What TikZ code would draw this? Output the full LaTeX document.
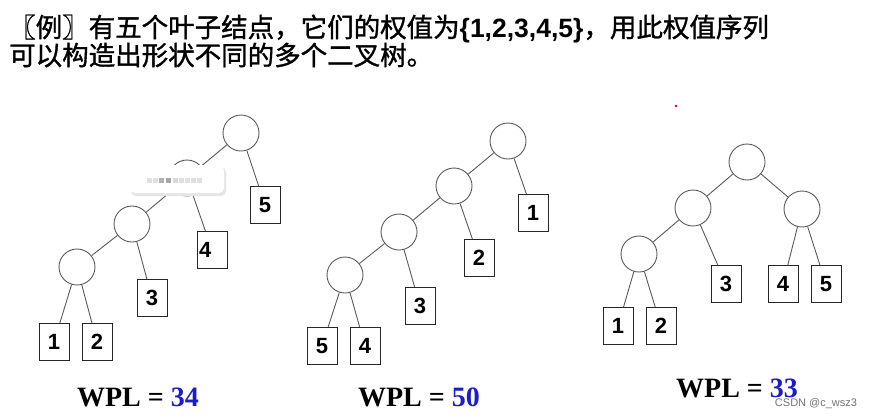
\documentclass[tikz,border=0pt]{standalone}
\usepackage{fontspec}
\setmainfont{Liberation Sans}
\newfontfamily\cjk{Noto Sans CJK SC}[FakeBold=1.2]
\newfontfamily\arialf{Liberation Sans}
\newfontfamily\timesf{Liberation Serif}
\definecolor{linegray}{HTML}{5A5A5A}
\definecolor{wplblue}{HTML}{1C1CC8}
\begin{document}
\begin{tikzpicture}[x=1pt,y=-1pt,
  inner/.style={circle, draw=linegray, line width=0.9pt, minimum size=36pt, inner sep=0pt},
  leaf/.style={rectangle, draw=black!85, line width=0.9pt, minimum width=30pt, minimum height=37pt, inner sep=0pt, font=\arialf\bfseries\fontsize{22}{22}\selectfont},
  leafL/.style={leaf, text width=26pt, align=left},
  edge/.style={draw=linegray, line width=0.9pt},
  wpl/.style={font=\timesf\bfseries\fontsize{28}{28}\selectfont, inner sep=0pt}]
\useasboundingbox (0,0) rectangle (872,418);
\fill[white] (0,0) rectangle (872,418);

% title
\node[anchor=west, inner sep=0pt, align=left, font=\cjk\fontsize{26.5}{28}\selectfont] (title) at (9,41)
  {〖例〗有五个叶子结点，它们的权值为{\arialf\bfseries\{1,2,3,4,5\}}，用此权值序列\\可以构造出形状不同的多个二叉树。};

% tree 1
\node[inner] (a1) at (241,133) {};
\node[inner] (a2) at (187,178) {};
\node[inner] (a3) at (132,224) {};
\node[inner] (a4) at (77,267) {};
\node[leaf] (a5) at (265,205) {5};
\node[leafL] (a6) at (212,250) {4};
\node[leaf] (a7) at (152,298) {3};
\node[leaf] (a8) at (54,342) {1};
\node[leaf] (a9) at (97,342) {2};
\draw[edge] (a1) -- (a2);
\draw[edge] (a1) -- (a5);
\draw[edge] (a2) -- (a3);
\draw[edge] (a2) -- (a6);
\draw[edge] (a3) -- (a4);
\draw[edge] (a3) -- (a7);
\draw[edge] (a4) -- (a8);
\draw[edge] (a4) -- (a9);

% popup overlay
\fill[black!10, rounded corners=5pt] (131,167) rectangle (226,196);
\fill[white, rounded corners=5pt] (130,165) rectangle (224,193);
\foreach \x/\c in {149/black!12,155/black!12,161/black!30,168/black!35,175/black!15,181/black!12,187/black!12,193/black!12,199/black!12}
  \fill[\c] (\x-2.5,177.5) rectangle (\x+2.5,182.5);

% tree 2
\node[inner] (b1) at (508,141) {};
\node[inner] (b2) at (454,186) {};
\node[inner] (b3) at (399,232) {};
\node[inner] (b4) at (345,275) {};
\node[leaf] (b5) at (533,213) {1};
\node[leaf] (b6) at (479,258) {2};
\node[leaf] (b7) at (420,306) {3};
\node[leaf] (b8) at (322,346) {5};
\node[leaf] (b9) at (365,346) {4};
\draw[edge] (b1) -- (b2);
\draw[edge] (b1) -- (b5);
\draw[edge] (b2) -- (b3);
\draw[edge] (b2) -- (b6);
\draw[edge] (b3) -- (b4);
\draw[edge] (b3) -- (b7);
\draw[edge] (b4) -- (b8);
\draw[edge] (b4) -- (b9);

% tree 3
\fill[red!85!black] (676,106) circle (1.3pt);
\node[inner] (c1) at (747,162) {};
\node[inner] (c2) at (693,208) {};
\node[inner] (c3) at (802,209) {};
\node[inner] (c4) at (639,254) {};
\node[leaf] (c5) at (726,284) {3};
\node[leaf] (c6) at (783,284) {4};
\node[leaf] (c7) at (826,284) {5};
\node[leaf] (c8) at (618,326) {1};
\node[leaf] (c9) at (661,326) {2};
\draw[edge] (c1) -- (c2);
\draw[edge] (c1) -- (c3);
\draw[edge] (c2) -- (c4);
\draw[edge] (c2) -- (c5);
\draw[edge] (c3) -- (c6);
\draw[edge] (c3) -- (c7);
\draw[edge] (c4) -- (c8);
\draw[edge] (c4) -- (c9);

% WPL labels
\node[wpl] (w1) at (138,397) {WPL = \textcolor{wplblue}{34}};
\node[wpl] (w2) at (419,397) {WPL = \textcolor{wplblue}{50}};
\node[wpl] (w3) at (737,388) {WPL = \textcolor{wplblue}{33}};

% watermark
\node[font=\arialf\fontsize{11}{11}\selectfont, text=black!55, inner sep=0pt] (wm) at (816,404) {CSDN @c\_wsz3};
\end{tikzpicture}
\end{document}
